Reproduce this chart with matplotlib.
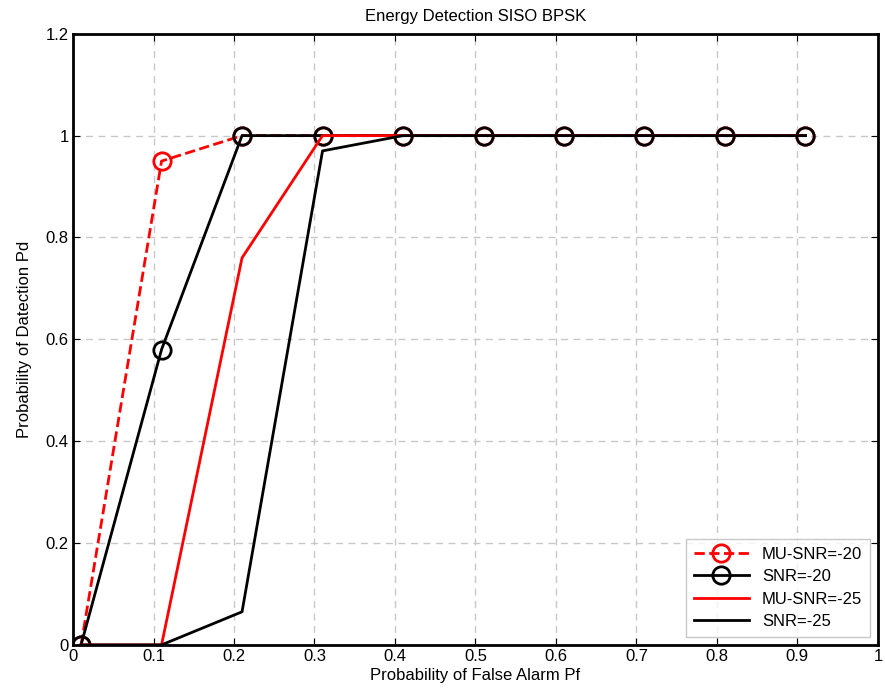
import matplotlib
matplotlib.use("Agg")
import matplotlib.pyplot as plt

plt.rcParams['font.family'] = ['Liberation Sans', 'DejaVu Sans']

# False alarm probability and detection probability for each case
pf = [0.01, 0.11, 0.21, 0.31, 0.41, 0.51, 0.61, 0.71, 0.81, 0.91]
pd_mu20 = [0, 0.95, 1, 1, 1, 1, 1, 1, 1, 1]
pd_snr20 = [0, 0.58, 1, 1, 1, 1, 1, 1, 1, 1]
pd_mu25 = [0, 0, 0.76, 1, 1, 1, 1, 1, 1, 1]
pd_snr25 = [0, 0, 0.065, 0.97, 1, 1, 1, 1, 1, 1]

fig = plt.figure(figsize=(8.85, 6.89), dpi=100)
ax = fig.add_axes([0.0825, 0.064, 0.9095, 0.887])

ax.plot(pf, pd_mu20, 'r--o', lw=2, ms=12.5, mfc='none', mew=2, label='MU-SNR=-20')
ax.plot(pf, pd_snr20, 'k-o', lw=2, ms=12.5, mfc='none', mew=2, label='SNR=-20')
ax.plot(pf, pd_mu25, 'r-', lw=2, label='MU-SNR=-25')
ax.plot(pf, pd_snr25, 'k-', lw=2, label='SNR=-25')

ax.set_xlim(0, 1)
ax.set_ylim(0, 1.2)
ax.set_xticks([0, 0.1, 0.2, 0.3, 0.4, 0.5, 0.6, 0.7, 0.8, 0.9, 1])
ax.set_xticklabels(['0', '0.1', '0.2', '0.3', '0.4', '0.5', '0.6', '0.7', '0.8', '0.9', '1'])
ax.set_yticks([0, 0.2, 0.4, 0.6, 0.8, 1, 1.2])
ax.set_yticklabels(['0', '0.2', '0.4', '0.6', '0.8', '1', '1.2'])
ax.grid(True, ls=(0, (5, 4)), color='#c8c8c8', lw=1)
ax.tick_params(direction='in', labelsize=12, length=5, top=True, right=True, pad=3)
for s in ax.spines.values():
    s.set_linewidth(2)

ax.set_xlabel('Probability of False Alarm Pf', fontsize=12, labelpad=3)
ax.set_ylabel('Probability of Datection Pd', fontsize=12, labelpad=10)
ax.set_title('Energy Detection SISO BPSK', fontsize=12, pad=9)

leg = ax.legend(loc='lower right', fontsize=12, fancybox=False, edgecolor='#bbbbbb',
                handlelength=3.3, borderpad=0.45, labelspacing=0.45)
leg.get_frame().set_linewidth(1)

fig.savefig('out.png', dpi=100)
